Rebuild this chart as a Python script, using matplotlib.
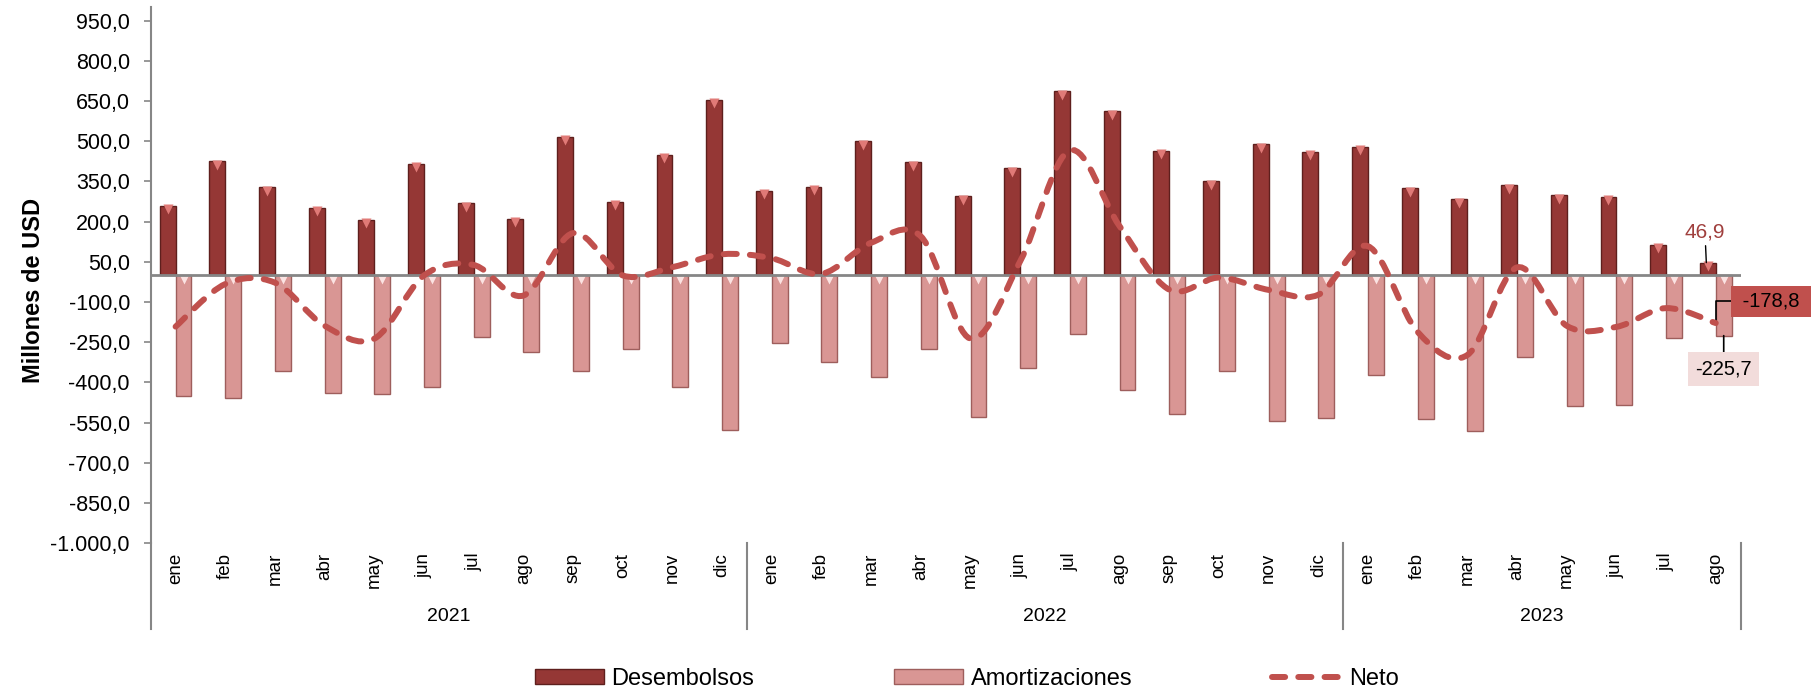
import matplotlib.pyplot as plt
import numpy as np
from matplotlib import font_manager
from matplotlib.path import Path
from matplotlib.patches import PathPatch, Patch
from matplotlib.lines import Line2D
from matplotlib.ticker import FuncFormatter
import matplotlib.transforms as mtransforms

# Datos (millones de USD), ene-2021 a ago-2023
meses = ['ene', 'feb', 'mar', 'abr', 'may', 'jun', 'jul', 'ago', 'sep', 'oct', 'nov', 'dic',
         'ene', 'feb', 'mar', 'abr', 'may', 'jun', 'jul', 'ago', 'sep', 'oct', 'nov', 'dic',
         'ene', 'feb', 'mar', 'abr', 'may', 'jun', 'jul', 'ago']
anios = ['2021', '2022', '2023']
meses_por_anio = [12, 12, 8]

desembolsos = [260, 426, 329, 251, 207, 416, 269, 210, 516, 274, 449, 655,
               315, 330, 500, 422, 294, 399, 687, 612, 465, 350, 489, 461,
               479, 325, 283, 335, 298, 293, 113, 46.9]
amortizaciones = [-452, -459, -357, -440, -444, -417, -231, -286, -359, -275, -419, -577,
                  -252, -325, -379, -277, -531, -347, -221, -429, -519, -359, -544, -534,
                  -371, -537, -581, -306, -487, -486, -236, -225.7]
neto = [-192, -33, -28, -189, -237, -1, 38, -76, 157, -1, 30, 78,
        63, 5, 121, 145, -237, 52, 466, 183, -54, -9, -55, -73,
        108, -212, -298, 29, -189, -193, -123, -178.8]

# fuentes: Arial Narrow si hay equivalente instalado
nombres = {f.name for f in font_manager.fontManager.ttflist}
fuente = 'Liberation Sans Narrow' if 'Liberation Sans Narrow' in nombres else 'Liberation Sans'
plt.rcParams['font.family'] = [fuente, 'DejaVu Sans']

col_des = '#953735'
col_amort = '#D99694'
col_neto = '#C0504D'
gris = '#868686'


def curva_suave(xs, ys):
    # linea suavizada tipo Excel (bezier)
    pts = np.column_stack([xs, ys]).astype(float)
    verts = [pts[0]]
    codes = [Path.MOVETO]
    n = len(pts)
    for i in range(n - 1):
        p0 = pts[i - 1] if i > 0 else pts[i]
        p1 = pts[i]
        p2 = pts[i + 1]
        p3 = pts[i + 2] if i + 2 < n else pts[i + 1]
        verts += [p1 + (p2 - p0) / 6, p2 - (p3 - p1) / 6, p2]
        codes += [Path.CURVE4] * 3
    return Path(verts, codes)


def formato_y(v, pos):
    s = f"{v:,.1f}"
    return s.replace(',', 'X').replace('.', ',').replace('X', '.')


fig = plt.figure(figsize=(18.12, 6.92), dpi=100)
ax = fig.add_axes([0.0832, 0.2152, 0.8774, 0.7743])

x = np.arange(len(meses))
ancho = 0.32

ax.bar(x - ancho / 2, desembolsos, ancho, color=col_des, edgecolor='#5E1F1D', linewidth=1, zorder=2)
ax.bar(x + ancho / 2, amortizaciones, ancho, color=col_amort, edgecolor='#9E5E5C', linewidth=1, zorder=2)
# pequeño bisel en la parte superior de cada barra
ax.plot(x - ancho / 2, np.array(desembolsos) - 13, 'v', color='#E07A77', ms=6.5, mec='none', zorder=3)
ax.plot(x + ancho / 2, np.zeros(len(x)) - 13, 'v', color='#FBE3E2', ms=6.5, mec='none', zorder=3)

ax.axhline(0, color=gris, lw=2, zorder=4)

linea = PathPatch(curva_suave(x, neto), fill=False, edgecolor=col_neto, lw=4.3,
                  linestyle=(0, (2.2, 2.2)), capstyle='round', zorder=5)
ax.add_patch(linea)

ax.set_xlim(-0.5, len(meses) - 0.5)
ax.set_ylim(-1000, 1000)
ax.set_yticks(np.arange(-1000, 951, 150))
ax.yaxis.set_major_formatter(FuncFormatter(formato_y))
ax.tick_params(axis='y', labelsize=15.5, color=gris, length=5, width=1.2, pad=10)
ax.set_xticks(x)
ax.set_xticklabels(meses, rotation=90, fontsize=13.5)
ax.tick_params(axis='x', length=0, pad=7)

for lado in ['top', 'right', 'bottom']:
    ax.spines[lado].set_visible(False)
ax.spines['left'].set_color(gris)
ax.spines['left'].set_linewidth(1.5)

# eje de categorias con años
trans = mtransforms.blended_transform_factory(ax.transData, ax.transAxes)
inicio = 0
limites = [-0.5]
for anio, n in zip(anios, meses_por_anio):
    ax.text(inicio + (n - 1) / 2, -0.137, anio, transform=trans, ha='center', va='center',
            fontsize=14, clip_on=False)
    inicio += n
    limites.append(inicio - 0.5)
for lim in limites:
    ax.plot([lim, lim], [0, -0.161], transform=trans, color=gris, lw=1.5, clip_on=False)

fig.text(0.0185, 0.58, 'Millones de USD', rotation=90, fontweight='bold', fontsize=17,
         ha='center', va='center')

# etiquetas del ultimo mes
ult = len(meses) - 1
ax.annotate(f"{desembolsos[-1]:.1f}".replace('.', ','), xy=(ult - ancho / 2 - 0.03, desembolsos[-1]),
            xytext=(-1, 22), textcoords='offset points', ha='center', va='center',
            fontsize=15, color='#A0403E',
            arrowprops=dict(arrowstyle='-', color='black', lw=1, shrinkA=1, shrinkB=0))
ax.annotate(f" {neto[-1]:.1f} ".replace('.', ','), xy=(ult, neto[-1]),
            xytext=(40, 15.6), textcoords='offset points', ha='center', va='center',
            fontsize=14.5, color='black',
            bbox=dict(boxstyle='square,pad=0.3', fc=col_neto, ec='none'),
            arrowprops=dict(arrowstyle='-', color='black', lw=1.2, shrinkA=0, shrinkB=0,
                            connectionstyle='angle,angleA=180,angleB=90,rad=0'))
ax.annotate(f"{amortizaciones[-1]:.1f}".replace('.', ','), xy=(ult + ancho / 2, amortizaciones[-1]),
            xytext=(0, -24), textcoords='offset points', ha='center', va='center',
            fontsize=14.5, color='black',
            bbox=dict(boxstyle='square,pad=0.35', fc='#F2DCDB', ec='none'),
            arrowprops=dict(arrowstyle='-', color='black', lw=1.2, shrinkA=0, shrinkB=0))

handles = [Patch(facecolor=col_des, edgecolor='#5E1F1D'),
           Patch(facecolor=col_amort, edgecolor='#9E5E5C'),
           Line2D([], [], color=col_neto, lw=4.3, linestyle=(0, (2.2, 2.2)), dash_capstyle='round')]
fig.legend(handles, ['Desembolsos', 'Amortizaciones', 'Neto'], loc='center',
           bbox_to_anchor=(0.5334, 0.019), ncol=3, frameon=False, fontsize=17,
           handlelength=2.92, handleheight=0.59, handletextpad=0.34, columnspacing=5.9, borderpad=0)

fig.savefig('out.png', dpi=100)
